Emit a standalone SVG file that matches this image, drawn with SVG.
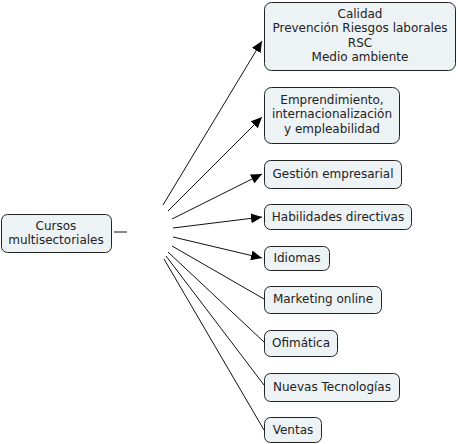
<svg xmlns="http://www.w3.org/2000/svg" width="458" height="444" viewBox="0 0 458 444">
<defs>
<style>
.box{fill:#edf2f5;stroke:#222;stroke-width:1}
.t{font-family:"DejaVu Sans",Verdana,sans-serif;font-size:12px;fill:#222;text-anchor:middle}
.c{stroke:#111;stroke-width:1;fill:none}
</style>
<marker id="ah" markerUnits="userSpaceOnUse" markerWidth="12" markerHeight="10" refX="11" refY="5" orient="auto">
<path d="M0,0 L11,5 L0,10 Z" fill="#000"/>
</marker>
</defs>
<rect width="458" height="444" fill="#fff"/>
<g id="connectors">
<line class="c" x1="114" y1="232" x2="127" y2="232"/>
<line class="c" x1="163" y1="205" x2="262" y2="41" marker-end="url(#ah)"/>
<line class="c" x1="168" y1="211" x2="262" y2="117" marker-end="url(#ah)"/>
<line class="c" x1="172" y1="219" x2="262" y2="174" marker-end="url(#ah)"/>
<line class="c" x1="173" y1="228" x2="262" y2="217" marker-end="url(#ah)"/>
<line class="c" x1="173" y1="237" x2="262" y2="258" marker-end="url(#ah)"/>
<line class="c" x1="172" y1="246" x2="264" y2="299"/>
<line class="c" x1="168" y1="252" x2="264" y2="342"/>
<line class="c" x1="166" y1="256" x2="264" y2="385"/>
<line class="c" x1="164" y1="259" x2="264" y2="430"/>
</g>
<g id="n-cursos">
<rect class="box" x="1.5" y="214.5" width="110" height="38" rx="6"/>
<text class="t" x="56" y="230">Cursos</text>
<text class="t" x="56" y="244">multisectoriales</text>
</g>
<g id="n-calidad">
<rect class="box" x="264.5" y="2.5" width="191" height="68" rx="7"/>
<text class="t" x="360" y="18">Calidad</text>
<text class="t" x="360" y="32">Prevención Riesgos laborales</text>
<text class="t" x="360" y="47">RSC</text>
<text class="t" x="360" y="61">Medio ambiente</text>
</g>
<g id="n-emprendimiento">
<rect class="box" x="264.5" y="87.5" width="135" height="56" rx="7"/>
<text class="t" x="332" y="104">Emprendimiento,</text>
<text class="t" x="332" y="118">internacionalización</text>
<text class="t" x="332" y="133">y empleabilidad</text>
</g>
<g id="n-gestion">
<rect class="box" x="264.5" y="160.5" width="137" height="28" rx="6"/>
<text class="t" x="333" y="178">Gestión empresarial</text>
</g>
<g id="n-habilidades">
<rect class="box" x="264.5" y="204.5" width="147" height="25" rx="6"/>
<text class="t" x="338" y="221">Habilidades directivas</text>
</g>
<g id="n-idiomas">
<rect class="box" x="264.5" y="246.5" width="65" height="24" rx="6"/>
<text class="t" x="297" y="262">Idiomas</text>
</g>
<g id="n-marketing">
<rect class="box" x="264.5" y="286.5" width="117" height="27" rx="6"/>
<text class="t" x="323" y="303">Marketing online</text>
</g>
<g id="n-ofimatica">
<rect class="box" x="264.5" y="330.5" width="73" height="26" rx="6"/>
<text class="t" x="301" y="347">Ofimática</text>
</g>
<g id="n-nuevas">
<rect class="box" x="264.5" y="373.5" width="135" height="28" rx="6"/>
<text class="t" x="332" y="391">Nuevas Tecnologías</text>
</g>
<g id="n-ventas">
<rect class="box" x="264.5" y="417.5" width="57" height="25" rx="6"/>
<text class="t" x="293" y="434">Ventas</text>
</g>
</svg>
